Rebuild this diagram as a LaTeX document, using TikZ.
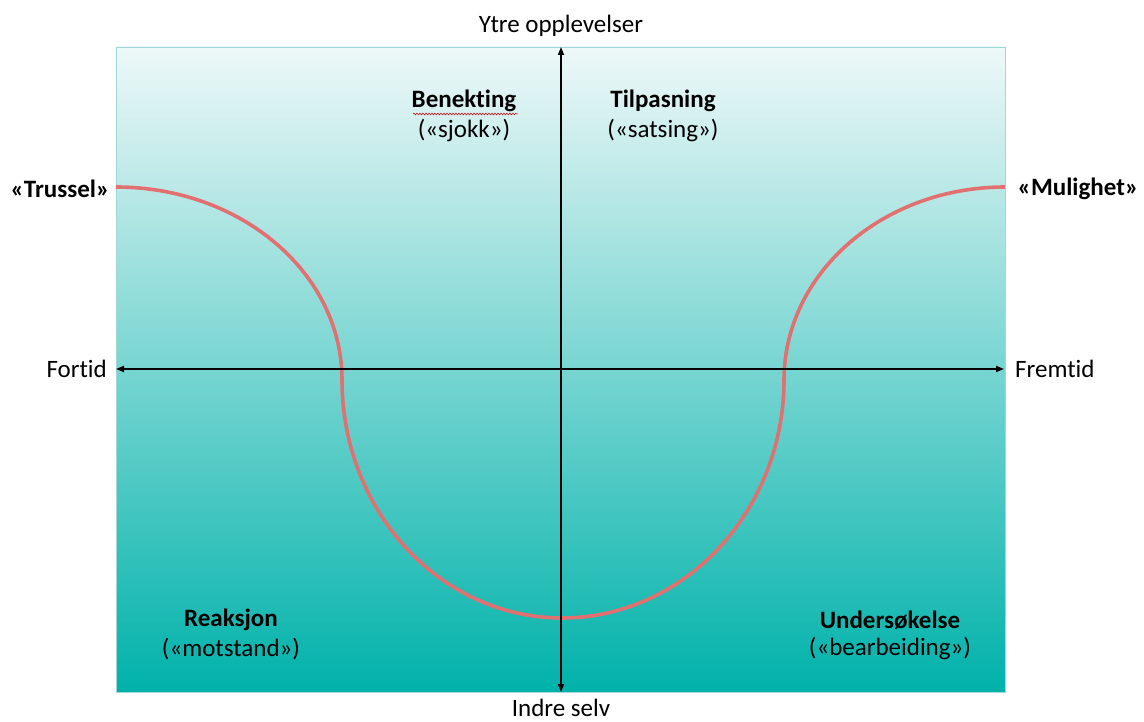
\documentclass[tikz,border=0pt]{standalone}
\usepackage{fontspec}
\setmainfont{Carlito}[RawFeature=-liga]
\usetikzlibrary{arrows.meta,decorations.pathmorphing}
\definecolor{topc}{RGB}{238,248,248}
\definecolor{botc}{RGB}{0,178,170}
\definecolor{curvec}{RGB}{226,112,112}
\definecolor{framec}{RGB}{160,215,215}
\begin{document}
\begin{tikzpicture}[x=1pt,y=-1pt,
  lbl/.style={font=\fontsize{25}{30}\selectfont, inner sep=0pt, align=center},
  blbl/.style={lbl, font=\fontsize{25}{30}\selectfont\bfseries},
  axis/.style={line width=1.6pt, -{Triangle[length=8pt,width=6pt]}},
  curve/.style={line width=3.6pt, curvec}]
\useasboundingbox (0,0) rectangle (1144,722);
\shade[top color=topc, bottom color=botc] (116,47) rectangle (1005,692);
\draw[framec, line width=0.8pt] (116,47) rectangle (1005,692);
% curve
\coordinate (c0) at (116,187);
\coordinate (c1) at (342,380);
\coordinate (c2) at (562,618);
\coordinate (c3) at (784,380);
\coordinate (c4) at (1005,187);
\draw[curve] (c0) .. controls (241,187) and (342,273) .. (c1)
  .. controls (342,511) and (440,618) .. (c2)
  .. controls (684,618) and (784,511) .. (c3)
  .. controls (784,273) and (883,187) .. (c4);
% axes
\coordinate (vb) at (561,692);
\coordinate (vt) at (561,47);
\coordinate (hl) at (116,369);
\coordinate (hr) at (1004,369);
\coordinate (hc) at (561,369);
\draw[axis] (hc) -- (vt);
\draw[axis] (hc) -- (vb);
\draw[axis] (hc) -- (hl);
\draw[axis] (hc) -- (hr);
% labels
\node[lbl] (ytre) at (561,26) {Ytre opplevelser};
\node[lbl] (indre) at (561,708) {Indre selv};
\node[lbl, anchor=east] (fortid) at (107,369) {Fortid};
\node[lbl, anchor=west] (fremtid) at (1015,369) {Fremtid};
\node[blbl] (truss) at (60,189) {«Trussel»};
\node[blbl] (mulig) at (1078,189) {«Mulighet»};
\node[blbl] (ben) at (464,101) {Benekting};
\node[lbl] (sjokk) at (464,131) {(«sjokk»)};
\draw[red!80!black, line width=0.5pt, decorate, decoration={snake, amplitude=0.9pt, segment length=3pt}] (413,114) -- (518,114);
\node[blbl] (tilp) at (663,101) {Tilpasning};
\node[lbl] (sats) at (663,131) {(«satsing»)};
\node[blbl] (reak) at (231,620) {Reaksjon};
\node[lbl] (mots) at (231,649) {(«motstand»)};
\node[blbl] (unders) at (890,620) {Undersøkelse};
\node[lbl] (bearb) at (890,649) {(«bearbeiding»)};
\end{tikzpicture}
\end{document}
